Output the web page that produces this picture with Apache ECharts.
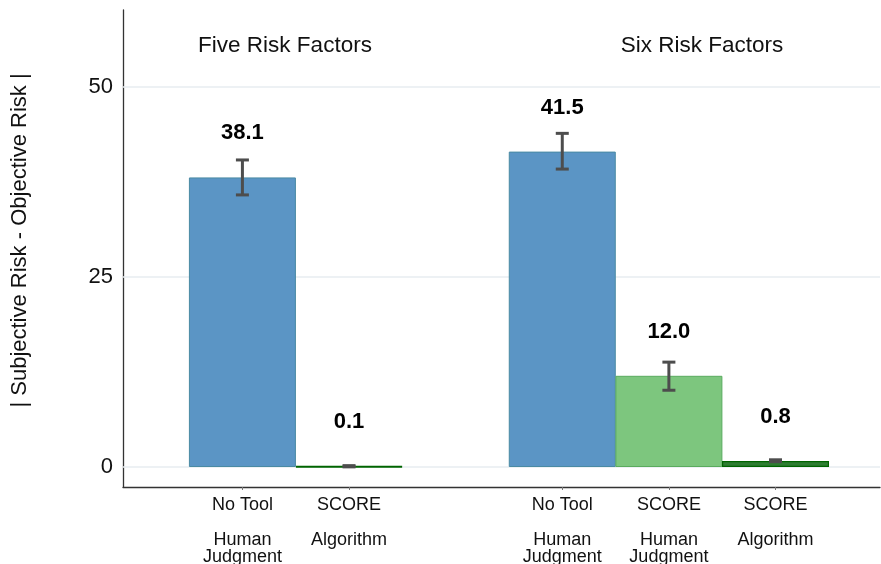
<!DOCTYPE html>
<html>
<head>
<meta charset="utf-8">
<script src="https://cdn.jsdelivr.net/npm/echarts@6/dist/echarts.min.js"></script>
<style>
  html, body { margin: 0; padding: 0; background: #fff; }
  #chart { width: 881px; height: 564px; }
</style>
</head>
<body>
<div id="chart"></div>
<script>
// Bar slots along the x axis (slot 3 is the gap between the two panels)
const slots = [1, 2, 4, 5, 6];
const tickNames = ['No Tool', 'SCORE', 'No Tool', 'SCORE', 'SCORE'];
const subNames = ['Human\nJudgment', 'Algorithm', 'Human\nJudgment', 'Human\nJudgment', 'Algorithm'];
// Mean absolute difference and its error range
const means = [38.1, 0.1, 41.5, 12.0, 0.8];
const errLow = [35.8, 0.02, 39.2, 10.1, 0.7];
const errHigh = [40.4, 0.18, 43.9, 13.8, 0.95];
const yTicks = [0, 25, 50];
const panelTitles = ['Five Risk Factors', 'Six Risk Factors'];

// Fill / outline per condition
const fills = ['#5b95c5', '#006400', '#5b95c5', '#7dc67e', '#2e7d32'];
const outlines = ['#4a8aa3', '#006400', '#4a8aa3', '#5aab5e', '#006400'];
const outlineWidths = [1, 2, 1, 1, 1.2];

const FONT = 'Liberation Sans, Arial, sans-serif';

const chart = echarts.init(document.getElementById('chart'));

const barData = slots.map((x, i) => ({
  value: [x, means[i]],
  itemStyle: { color: fills[i], borderColor: outlines[i], borderWidth: outlineWidths[i] }
}));

const errData = slots.map((x, i) => [x, errLow[i], errHigh[i]]);

const option = {
  animation: false,
  grid: { left: 123, right: 1, top: 10, bottom: 77, containLabel: false, outerBoundsMode: 'none' },
  xAxis: {
    type: 'value',
    min: -0.12,
    max: 6.98,
    axisLine: { show: true, onZero: false, lineStyle: { color: '#333', width: 1.3 } },
    axisTick: { show: true, customValues: slots, length: 3, lineStyle: { color: '#777' } },
    splitLine: { show: false },
    axisLabel: {
      customValues: slots,
      margin: 9,
      formatter: function (v) {
        const i = slots.indexOf(v);
        if (i < 0) return '';
        return '{a|' + tickNames[i] + '}\n{g|}\n{b|' + subNames[i].replace('\n', '}\n{b|') + '}';
      },
      rich: {
        a: { fontFamily: FONT, fontSize: 18, color: '#111', lineHeight: 18 },
        g: { fontSize: 10, lineHeight: 18 },
        b: { fontFamily: FONT, fontSize: 18, color: '#111', lineHeight: 17 }
      }
    }
  },
  yAxis: {
    type: 'value',
    min: -2.63,
    max: 60.13,
    axisLine: { show: true, onZero: false, lineStyle: { color: '#333', width: 1.3 } },
    axisTick: { show: false },
    splitLine: { show: false },
    axisLabel: {
      customValues: yTicks,
      margin: 10,
      fontFamily: FONT,
      fontSize: 22,
      color: '#111'
    },
    name: '| Subjective Risk - Objective Risk |',
    nameLocation: 'middle',
    nameGap: 92,
    nameRotate: 90,
    nameTextStyle: { fontFamily: FONT, fontSize: 22, color: '#111', padding: [0, 0, 0, 16] }
  },
  series: [
    {
      // horizontal reference lines
      type: 'line',
      data: [],
      silent: true,
      z: 1,
      markLine: {
        silent: true,
        z: 1,
        symbol: 'none',
        label: { show: false },
        lineStyle: { color: '#e7edf0', width: 1.5, type: 'solid' },
        data: yTicks.map(v => ({ yAxis: v }))
      }
    },
    {
      type: 'bar',
      data: barData,
      barWidth: 107,
      z: 3,
      label: {
        show: true,
        position: 'top',
        distance: 33,
        fontFamily: FONT,
        fontSize: 22,
        fontWeight: 'bold',
        color: '#000',
        formatter: p => p.value[1].toFixed(1)
      }
    },
    {
      type: 'custom',
      z: 4,
      data: errData,
      renderItem: function (params, api) {
        const x = api.value(0);
        const lo = api.coord([x, api.value(1)]);
        const hi = api.coord([x, api.value(2)]);
        const cap = 6.5;
        const style = { stroke: '#4d4d4d', lineWidth: 3 };
        return {
          type: 'group',
          children: [
            { type: 'line', shape: { x1: lo[0], y1: lo[1], x2: hi[0], y2: hi[1] }, style: style },
            { type: 'line', shape: { x1: lo[0] - cap, y1: lo[1], x2: lo[0] + cap, y2: lo[1] }, style: style },
            { type: 'line', shape: { x1: hi[0] - cap, y1: hi[1], x2: hi[0] + cap, y2: hi[1] }, style: style }
          ]
        };
      }
    }
  ],
  graphic: [
    {
      type: 'text', x: 285, y: 46,
      style: { text: panelTitles[0], fontFamily: FONT, fontSize: 22.5, fill: '#111', textAlign: 'center', textVerticalAlign: 'middle' }
    },
    {
      type: 'text', x: 702, y: 46,
      style: { text: panelTitles[1], fontFamily: FONT, fontSize: 22.5, fill: '#111', textAlign: 'center', textVerticalAlign: 'middle' }
    }
  ]
};

chart.setOption(option);
</script>
</body>
</html>
